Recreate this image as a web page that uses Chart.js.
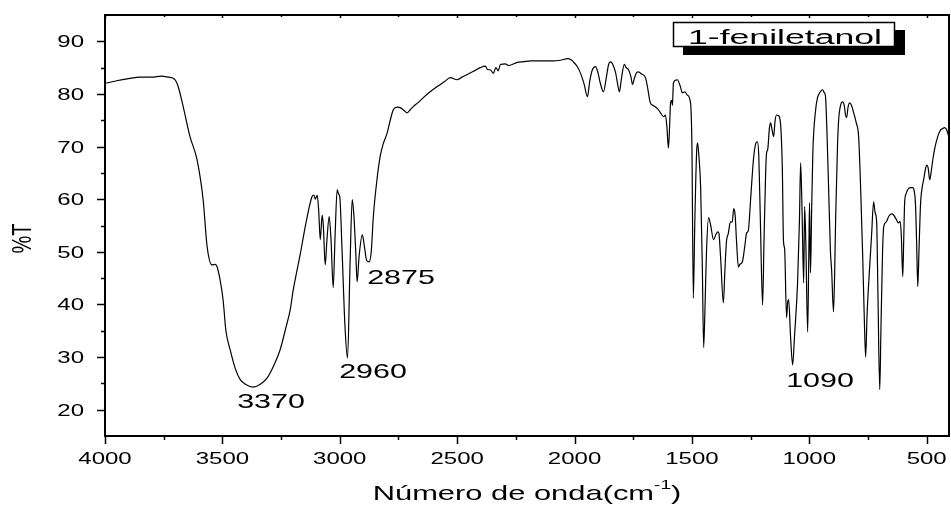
<!DOCTYPE html>
<html>
<head>
<meta charset="utf-8">
<script src="https://cdn.jsdelivr.net/npm/chart.js@4.4.1/dist/chart.umd.min.js"></script>
<style>
  html, body { margin: 0; padding: 0; background: #fff; }
  canvas { display: block; }
</style>
</head>
<body>
<canvas id="irChart" width="951" height="505"></canvas>
<script>
// Spectrum data (wavenumber in cm-1, transmittance in %)
const wavenumbers = [
    4000, 3950, 3900, 3850, 3800, 3760, 3730, 3710, 3700, 3689, 3667, 3638, 3608, 3582, 3565, 3544, 3530, 3523, 3510, 3497,
    3485, 3467, 3445, 3424, 3400, 3369, 3340, 3310, 3280, 3254, 3230, 3211, 3198, 3169, 3147, 3130, 3118, 3110, 3104, 3096,
    3090, 3083, 3075, 3070, 3062, 3055, 3045, 3037, 3028, 3020, 3011, 3005, 3000, 2990, 2978, 2967, 2956, 2947, 2940, 2932,
    2926, 2918, 2904, 2895, 2885, 2875, 2866, 2857, 2840, 2828, 2815, 2798, 2785, 2772, 2755, 2742, 2725, 2713, 2700, 2687,
    2665, 2644, 2615, 2585, 2555, 2529, 2500, 2480, 2457, 2430, 2401, 2380, 2370, 2359, 2346, 2335, 2325, 2316, 2295, 2280,
    2265, 2244, 2220, 2188, 2150, 2090, 2060, 2030, 2015, 2005, 1990, 1975, 1960, 1945, 1935, 1924, 1911, 1900, 1890, 1877,
    1865, 1855, 1847, 1838, 1825, 1815, 1809, 1800, 1788, 1780, 1770, 1760, 1753, 1745, 1735, 1728, 1715, 1698, 1690, 1677,
    1665, 1647, 1635, 1621, 1613, 1607, 1600, 1595, 1591, 1586, 1583, 1579, 1570, 1562, 1550, 1540, 1530, 1520, 1506, 1500,
    1494, 1488, 1480, 1476, 1470, 1463, 1456, 1450, 1444, 1438, 1429, 1420, 1408, 1398, 1390, 1385, 1378, 1366, 1360, 1353,
    1345, 1336, 1328, 1322, 1316, 1310, 1302, 1296, 1285, 1275, 1267, 1260, 1250, 1238, 1228, 1221, 1215, 1208, 1199, 1193,
    1186, 1182, 1177, 1170, 1165, 1158, 1152, 1146, 1140, 1132, 1123, 1115, 1110, 1105, 1097, 1092, 1088, 1080, 1071, 1063,
    1050, 1042, 1037, 1031, 1024, 1020, 1015, 1007, 1002, 999, 995, 990, 985, 973, 965, 960, 950, 943, 937, 931,
    925, 918, 910, 905, 897, 892, 888, 880, 875, 866, 858, 850, 846, 841, 835, 828, 820, 811, 800, 790,
    782, 773, 765, 760, 754, 743, 735, 726, 720, 713, 708, 700, 695, 688, 683, 672, 662, 650, 641, 630,
    620, 613, 608, 602, 598, 594, 588, 581, 570, 560, 553, 548, 543, 538, 533, 526, 520, 513, 505, 500,
    494, 487, 480, 474, 465, 453, 440, 432, 425, 420, 415, 410, 406
];
const transmittance = [
    82.0, 82.5, 82.9, 83.2, 83.2, 83.4, 83.2, 83.0, 82.6, 81.5, 77.6, 71.9, 67.5, 59.9, 51.0, 47.5, 47.6, 47.2, 44.7, 40.9,
    35.0, 31.4, 27.8, 25.7, 24.8, 24.3, 24.8, 26.0, 28.5, 31.4, 35.5, 39.0, 42.8, 49.4, 54.8, 58.5, 60.5, 60.8, 60.0, 60.8,
    58.0, 52.3, 57.0, 55.0, 47.5, 52.0, 56.7, 52.0, 43.2, 53.0, 61.8, 61.0, 60.5, 50.0, 36.0, 29.8, 48.0, 59.9, 57.0, 50.0,
    44.3, 49.0, 53.2, 51.0, 48.3, 48.1, 50.0, 56.7, 64.3, 68.1, 70.5, 72.6, 75.0, 77.0, 77.5, 77.4, 76.8, 76.4, 77.0, 77.6,
    78.4, 79.3, 80.4, 81.4, 82.3, 83.1, 82.7, 83.2, 83.7, 84.3, 85.0, 85.3, 84.6, 84.6, 83.9, 85.0, 84.4, 85.6, 85.7, 85.4,
    85.6, 86.0, 86.1, 86.3, 86.3, 86.3, 86.4, 86.7, 86.5, 86.1, 85.3, 84.0, 82.0, 79.5, 82.5, 84.6, 85.2, 84.0, 82.0, 80.4,
    83.0, 85.6, 86.1, 85.7, 84.0, 81.5, 80.4, 83.0, 85.6, 85.0, 84.6, 83.3, 81.8, 83.0, 84.1, 84.2, 83.8, 83.1, 81.5, 78.3,
    77.8, 77.2, 76.5, 75.7, 76.0, 74.0, 69.7, 74.0, 78.3, 78.8, 77.8, 82.0, 82.6, 82.7, 81.5, 80.2, 80.4, 79.8, 78.3, 70.0,
    41.2, 55.0, 69.0, 70.7, 68.0, 62.4, 48.0, 31.8, 40.0, 50.0, 56.5, 55.0, 52.3, 53.3, 53.8, 53.5, 49.0, 40.3, 46.0, 51.9,
    53.5, 55.7, 55.7, 58.2, 57.0, 52.0, 47.1, 47.6, 48.1, 51.0, 53.6, 54.0, 60.0, 67.5, 70.6, 70.9, 68.0, 55.0, 39.9, 52.0,
    65.0, 68.8, 69.5, 73.5, 74.5, 73.0, 71.9, 74.8, 76.0, 75.9, 74.5, 66.0, 52.0, 50.5, 37.5, 40.5, 40.9, 34.0, 28.5, 34.0,
    44.1, 56.0, 66.9, 58.0, 44.1, 58.6, 52.0, 34.8, 50.0, 59.3, 46.0, 58.0, 68.8, 77.0, 79.3, 79.9, 80.6, 80.8, 80.3, 79.5,
    73.0, 62.4, 50.0, 46.6, 38.6, 46.0, 56.1, 70.0, 75.1, 78.0, 78.5, 77.5, 76.0, 75.5, 77.5, 78.3, 77.8, 76.4, 74.5, 71.9,
    63.0, 49.8, 36.0, 30.0, 38.0, 47.1, 53.0, 59.5, 57.5, 55.5, 43.0, 23.8, 35.0, 50.0, 54.8, 55.7, 56.7, 57.2, 57.0, 56.2,
    55.5, 55.8, 53.0, 45.3, 52.0, 59.3, 61.0, 61.8, 62.2, 62.2, 61.5, 59.3, 52.0, 43.4, 50.0, 59.3, 62.0, 63.7, 65.8, 66.5,
    66.0, 63.7, 65.5, 67.5, 69.8, 71.9, 73.2, 73.4, 73.6, 73.5, 73.2, 72.5, 71.9
];

// Axis ticks
const xMajorTicks = [4000, 3500, 3000, 2500, 2000, 1500, 1000, 500];
const xMinorTicks = [3750, 3250, 2750, 2250, 1750, 1250, 750];
const yMajorTicks = [20, 30, 40, 50, 60, 70, 80, 90];
const yMinorTicks = [25, 35, 45, 55, 65, 75, 85];

// Peak labels and texts
const peakLabels = ['3370', '2960', '2875', '1090'];
const sampleName = '1-feniletanol';
const xTitle = 'Número de onda(cm';
const yTitle = '%T';

const FONT = '"Liberation Sans", Arial, sans-serif';

// Draw text stretched horizontally (the reference is wide)
function stretchedText(ctx, str, x, y, size, sx, align) {
    ctx.save();
    ctx.font = size + 'px ' + FONT;
    ctx.translate(x, y);
    ctx.scale(sx, 1);
    ctx.textAlign = align || 'center';
    ctx.textBaseline = 'alphabetic';
    ctx.fillStyle = '#000';
    ctx.fillText(str, 0, 0);
    ctx.restore();
}

const frameAndLabels = {
    id: 'frameAndLabels',
    afterDraw(chart) {
        const ctx = chart.ctx;
        const area = chart.chartArea;
        const xs = chart.scales.x;
        const ys = chart.scales.y;

        ctx.save();
        ctx.strokeStyle = '#000';

        // Frame
        ctx.lineWidth = 2;
        ctx.strokeRect(area.left, area.top, area.right - area.left, area.bottom - area.top);

        // X ticks (bottom outward, top inward)
        ctx.lineWidth = 1.5;
        ctx.beginPath();
        xMajorTicks.forEach(v => {
            const px = Math.round(xs.getPixelForValue(v)) + 0.5;
            ctx.moveTo(px, area.bottom); ctx.lineTo(px, area.bottom + 8);
            ctx.moveTo(px, area.top); ctx.lineTo(px, area.top + 3);
        });
        xMinorTicks.forEach(v => {
            const px = Math.round(xs.getPixelForValue(v)) + 0.5;
            ctx.moveTo(px, area.bottom); ctx.lineTo(px, area.bottom + 4);
            ctx.moveTo(px, area.top); ctx.lineTo(px, area.top + 2);
        });

        // Y ticks (left outward)
        yMajorTicks.forEach(v => {
            const py = Math.round(ys.getPixelForValue(v)) + 0.5;
            ctx.moveTo(area.left, py); ctx.lineTo(area.left - 8, py);
        });
        yMinorTicks.forEach(v => {
            const py = Math.round(ys.getPixelForValue(v)) + 0.5;
            ctx.moveTo(area.left, py); ctx.lineTo(area.left - 4, py);
        });
        ctx.stroke();

        // Tick labels
        xMajorTicks.forEach(v => {
            stretchedText(ctx, String(v), xs.getPixelForValue(v), area.bottom + 28, 16, 1.5, 'center');
        });
        yMajorTicks.forEach(v => {
            stretchedText(ctx, String(v), area.left - 21, ys.getPixelForValue(v) + 6, 16, 1.5, 'right');
        });

        // Axis titles
        ctx.save();
        ctx.font = '21px ' + FONT;
        const sx = 1.47;
        const wMain = ctx.measureText(xTitle).width * sx;
        ctx.font = '13px ' + FONT;
        const wSup = ctx.measureText('-1').width * sx;
        ctx.font = '21px ' + FONT;
        const wEnd = ctx.measureText(')').width * sx;
        ctx.restore();
        const total = wMain + wSup + wEnd;
        let tx = 527 - total / 2;
        stretchedText(ctx, xTitle, tx, 500, 21, sx, 'left');
        tx += wMain;
        stretchedText(ctx, '-1', tx, 489, 13, sx, 'left');
        tx += wSup;
        stretchedText(ctx, ')', tx, 500, 21, sx, 'left');

        ctx.save();
        ctx.translate(23, 238.5);
        ctx.scale(1.42, 1);
        ctx.rotate(-Math.PI / 2);
        ctx.font = '20px ' + FONT;
        ctx.textAlign = 'center';
        ctx.textBaseline = 'middle';
        ctx.fillStyle = '#000';
        ctx.fillText(yTitle, 0, 0);
        ctx.restore();

        // Peak labels
        const peakPos = [[271, 408], [373, 378], [401, 284], [820, 387]];
        peakLabels.forEach((t, i) => {
            stretchedText(ctx, t, peakPos[i][0], peakPos[i][1], 21, 1.45, 'center');
        });

        // Sample name box with shadow
        ctx.fillStyle = '#000';
        ctx.fillRect(683, 30, 222, 25);
        ctx.fillStyle = '#fff';
        ctx.fillRect(673, 22, 222, 25);
        ctx.lineWidth = 1.5;
        ctx.strokeRect(673.5, 22.5, 221, 24);
        stretchedText(ctx, sampleName, 785, 44, 20, 1.78, 'center');

        ctx.restore();
    }
};

document.addEventListener('DOMContentLoaded', function() {
    const points = wavenumbers.map((w, i) => ({ x: w, y: transmittance[i] }));
    const ctx = document.getElementById('irChart').getContext('2d');

    new Chart(ctx, {
        type: 'line',
        data: {
            datasets: [{
                label: sampleName,
                data: points,
                borderColor: '#000',
                borderWidth: 1.2,
                pointRadius: 0,
                cubicInterpolationMode: 'monotone',
                fill: false
            }]
        },
        options: {
            responsive: false,
            animation: false,
            layout: { padding: { top: 15, right: 2, left: 0, bottom: 0 } },
            plugins: {
                legend: { display: false },
                tooltip: { enabled: false }
            },
            scales: {
                x: {
                    type: 'linear',
                    reverse: true,
                    min: 405,
                    max: 4000,
                    grid: { display: false },
                    border: { display: false },
                    ticks: { display: false },
                    afterFit: function(scale) { scale.height = 69; }
                },
                y: {
                    type: 'linear',
                    min: 15,
                    max: 95,
                    grid: { display: false },
                    border: { display: false },
                    ticks: { display: false },
                    afterFit: function(scale) { scale.width = 105; }
                }
            }
        },
        plugins: [frameAndLabels]
    });
});
</script>
</body>
</html>
